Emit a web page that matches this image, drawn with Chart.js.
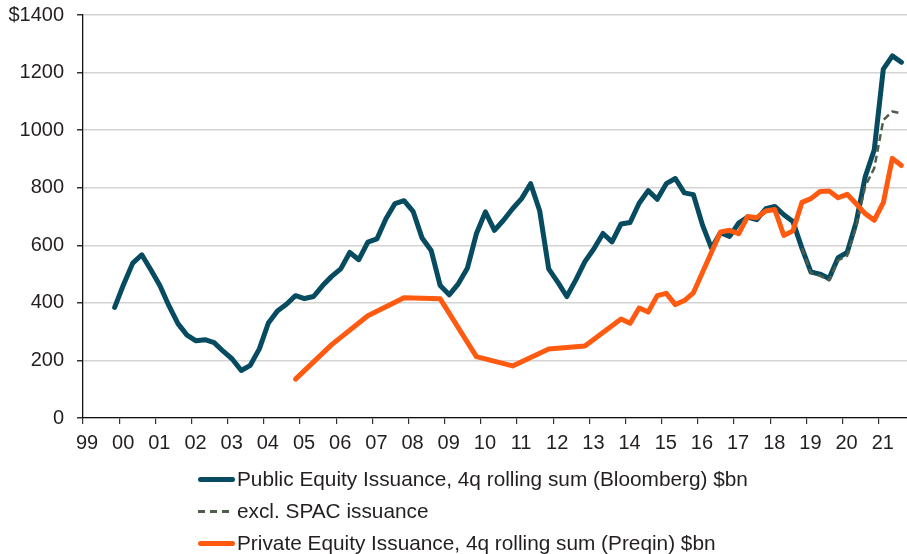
<!DOCTYPE html>
<html>
<head>
<meta charset="utf-8">
<script src="https://cdn.jsdelivr.net/npm/chart.js@4.4.0/dist/chart.umd.min.js"></script>
<style>
  body { margin: 0; background: #fff; }
  #wrap { position: relative; width: 907px; height: 554px; }
  #legend { position: absolute; left: 198px; top: 463px; font: 20.8px 'Liberation Sans', Arial, sans-serif; color: #231f20; }
  .row { display: flex; align-items: center; height: 32px; white-space: nowrap; }
  .swatch { width: 37px; margin-right: 2px; flex: none; }
</style>
</head>
<body>
<div id="wrap">
  <canvas id="chart" width="907" height="554"></canvas>
  <div id="legend"></div>
</div>
<script>
// Axis labels (one per year) and first year on the axis
const firstYear = 1999;
const yearLabels = ['99', '00', '01', '02', '03', '04', '05', '06', '07', '08', '09', '10',
  '11', '12', '13', '14', '15', '16', '17', '18', '19', '20', '21'];
const yTicks = [0, 200, 400, 600, 800, 1000, 1200, 1400];

// Public equity issuance, quarterly from 1999Q4 to 2021Q3 ($bn)
const publicStart = '1999Q4';
const publicEquity = [
  384, 465, 538, 567, 515, 460, 390, 328, 288, 268, 272, 262, 232, 205, 165, 183,
  240, 330, 372, 395, 425, 415, 422, 460, 492, 518, 575, 550, 611, 622, 692, 745,
  755, 718, 625, 582, 460, 428, 466, 520, 640, 716, 652, 687, 727, 762, 814, 720,
  518, 472, 422, 480, 543, 588, 641, 612, 674, 679, 746, 790, 760, 814, 832, 782,
  776, 671, 590, 644, 631, 677, 698, 689, 727, 735, 706, 683, 590, 507, 500, 485,
  557, 575, 680, 838, 932, 1212, 1258, 1236
];

// Excluding SPACs, quarterly from 2018Q4 (same as public before that)
const exSpacStart = '2018Q4';
const exSpac = [590, 504, 494, 478, 548, 563, 665, 805, 868, 1035, 1065, 1058];

// Private equity issuance, quarterly from 2004Q4, annual points early on
const privateStart = '2004Q4';
const privateEquity = [
  135, null, null, null, 255, null, null, null, 355, null, null, null, 418, null, null, null,
  414, null, null, null, 213, null, null, null, 181, null, null, null, 240, null, null, null,
  250, null, null, null, 344, 329, 382, 368, 425, 433, 394, 408, 435, null, null, 646,
  652, 640, 700, 696, 719, 724, 634, 650, 749, 762, 787, 789, 765, 777, 744, 710,
  687, 748, 902, 877
];

// quarter -> position on the year axis (middle of the quarter)
function toPoints(start, values) {
  const y0 = parseInt(start.slice(0, 4));
  const q0 = parseInt(start.slice(5)) - 1;
  return values.map((v, i) => ({ x: y0 + (q0 + i + 0.5) / 4, y: v }));
}

const font = { family: "'Liberation Sans', Arial, sans-serif", size: 20 };

const chart = new Chart(document.getElementById('chart'), {
  type: 'line',
  data: {
    datasets: [
      {
        label: 'Public Equity Issuance, 4q rolling sum (Bloomberg) $bn',
        data: toPoints(publicStart, publicEquity),
        borderColor: '#064b5f',
        borderWidth: 5,
        order: 2
      },
      {
        label: 'excl. SPAC issuance',
        data: toPoints(exSpacStart, exSpac),
        borderColor: '#4e5e4b',
        borderWidth: 2.5,
        borderDash: [7, 4],
        borderCapStyle: 'butt',
        order: 1
      },
      {
        label: 'Private Equity Issuance, 4q rolling sum (Preqin) $bn',
        data: toPoints(privateStart, privateEquity),
        borderColor: '#ff5a10',
        borderWidth: 5,
        spanGaps: true,
        order: 0
      }
    ]
  },
  options: {
    responsive: false,
    animation: false,
    layout: { padding: { top: 15, right: 0, bottom: 92, left: 0 } },
    elements: {
      point: { radius: 0 },
      line: { tension: 0, borderJoinStyle: 'round', borderCapStyle: 'round', fill: false }
    },
    plugins: {
      legend: { display: false },
      tooltip: { enabled: false }
    },
    scales: {
      x: {
        type: 'linear',
        min: firstYear,
        max: firstYear + 22.78,
        border: { color: '#111', width: 1.3 },
        grid: { drawOnChartArea: false, tickLength: 6, tickColor: '#333', lineWidth: 1.2 },
        ticks: {
          stepSize: 1,
          includeBounds: false,
          autoSkip: false,
          maxRotation: 0,
          padding: 7,
          labelOffset: 4,
          color: '#231f20',
          font: font,
          callback: v => yearLabels[v - firstYear]
        }
      },
      y: {
        min: yTicks[0],
        max: yTicks[yTicks.length - 1],
        afterFit: scale => {
          scale.width = 83;
          scale.paddingTop = 0;
          scale.paddingBottom = 0;
        },
        border: { color: '#111', width: 1.3 },
        grid: { color: '#d3d3d3', lineWidth: 1.5, tickLength: 6, tickColor: '#333' },
        ticks: {
          stepSize: 200,
          padding: 13,
          color: '#231f20',
          font: font,
          callback: v => (v === 1400 ? '$' + v : v)
        }
      }
    }
  }
});

// legend rows, stacked and left aligned
const legend = document.getElementById('legend');
chart.data.datasets.forEach(ds => {
  const row = document.createElement('div');
  row.className = 'row';
  const sw = document.createElement('span');
  sw.className = 'swatch';
  if (ds.borderDash) {
    sw.style.height = '3px';
    sw.style.width = '31px';
    sw.style.marginRight = '8px';
    sw.style.background = 'repeating-linear-gradient(90deg, ' + ds.borderColor + ' 0 7px, transparent 7px 12px)';
  } else {
    sw.style.height = '5px';
    sw.style.borderRadius = '3px';
    sw.style.background = ds.borderColor;
  }
  const txt = document.createElement('span');
  txt.textContent = ds.label;
  row.appendChild(sw);
  row.appendChild(txt);
  legend.appendChild(row);
});
</script>
</body>
</html>
